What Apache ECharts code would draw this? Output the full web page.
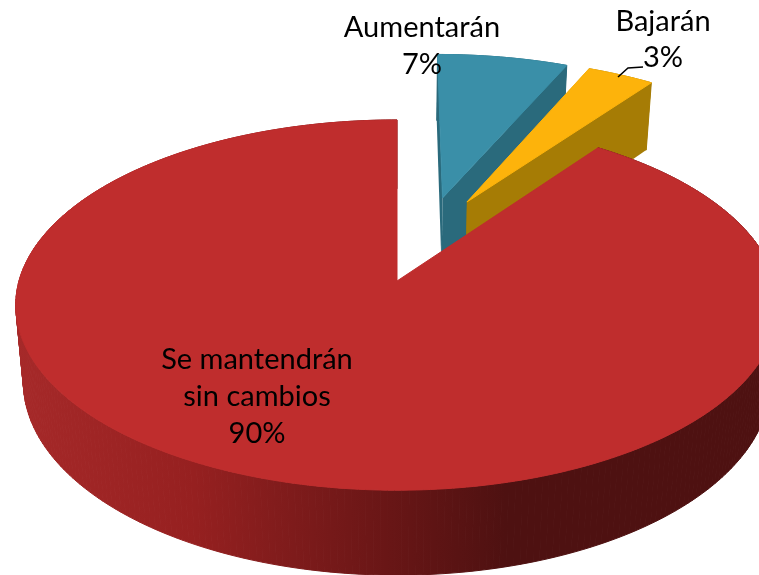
<!DOCTYPE html>
<html><head><meta charset="utf-8">
<style>html,body{margin:0;padding:0;background:#fff}#c{width:759px;height:575px}</style>
<script src="https://cdn.jsdelivr.net/npm/echarts@6/dist/echarts.min.js"></script>
</head><body><div id="c"></div>
<script>
const categories = ['Aumentarán', 'Bajarán', 'Se mantendrán\nsin cambios'];
const values = [6.6, 3.4, 90];
const unit = '%';

// Appearance (not data)
const view = {cx: 397, cy: 281, R: 378, b: 182, k: 0.13, depth: 76, shrink: 0.98};
const looks = [
  {top: '#3A8FA8', cut: '#2A6A7C', arc: '#2A6A7C', off: [0.128, -0.485], label: [422, 28, 27], labelGap: 37},
  {top: '#FDB30B', cut: '#A67C05', arc: '#A67C05', off: [0.196, -0.46], label: [663, 22, 36], labelGap: 36, leader: true},
  {top: '#BF2D2D', cut: '#8a1f1f', arc: null, off: [0, 0], label: [257, 360, 37], labelGap: 37}
];
const FONT = '29px Lato, "Open Sans", sans-serif';

const total = values.reduce((a, b) => a + b, 0);

function project(X, Z, h) {
  const s = 1 / (1 - view.k * Z);
  const f = 1 - (1 - view.shrink) * h;
  return [
    view.cx + view.R * X * s * f,
    view.cy + view.b * Z * s + view.depth * h * Math.pow(s, 0.8)
  ];
}
function rim(o, a0, a1, h) {
  const n = Math.max(4, Math.round((a1 - a0) * 60));
  const pts = [];
  for (let i = 0; i <= n; i++) {
    const a = a0 + (a1 - a0) * i / n;
    pts.push(project(o[0] + Math.sin(a), o[1] - Math.cos(a), h));
  }
  return pts;
}
function poly(points, fill, edge) {
  return {type: 'polygon', silent: true, shape: {points},
    style: edge ? {fill, stroke: fill, lineWidth: 1} : {fill, stroke: null}};
}
const redWall = new echarts.graphic.LinearGradient(15, 0, 759, 0, [
  {offset: 0, color: '#A62929'},
  {offset: 0.24, color: '#962020'},
  {offset: 0.35, color: '#821C1C'},
  {offset: 0.5, color: '#691616'},
  {offset: 0.66, color: '#4E1111'},
  {offset: 1, color: '#4E1111'}
], true);

function renderSlice(params, api) {
  const i = params.dataIndex;
  const look = looks[i];
  const o = look.off;
  let before = 0;
  for (let j = 0; j < i; j++) before += values[j];
  const a0 = before / total * 2 * Math.PI;
  const a1 = (before + api.value(0)) / total * 2 * Math.PI;
  const children = [];

  const topRim = rim(o, a0, a1, 0);
  const lowRim = rim(o, a0, a1, 1);
  const apexTop = project(o[0], o[1], 0);
  const apexLow = project(o[0], o[1], 1);

  // outer wall, one quad per rim step so the silhouette stays filled
  for (let n = 0; n < topRim.length - 1; n++) {
    children.push(poly([topRim[n], topRim[n + 1], lowRim[n + 1], lowRim[n]], look.arc || redWall, true));
  }
  if (i !== 2) {
    const e0 = topRim[0], e0l = lowRim[0];
    const e1 = topRim[topRim.length - 1], e1l = lowRim[lowRim.length - 1];
    children.push(poly([apexTop, e0, e0l, apexLow], look.cut));
    children.push(poly([apexTop, e1, e1l, apexLow], look.cut));
  }
  // top face, edged in its own colour so it covers the wall seam behind it
  children.push(poly([apexTop].concat(topRim), look.top, true));

  return {type: 'group', children};
}
function renderLabel(params, api) {
  const i = params.dataIndex;
  const look = looks[i];
  const lines = categories[i].split('\n').concat([Math.round(api.value(0)) + unit]);
  const children = [];
  lines.forEach((t, n) => {
    children.push({
      type: 'text', silent: true,
      style: {text: t, x: look.label[0], y: look.label[1] + n * look.labelGap,
        fill: '#000', font: FONT, align: 'center', verticalAlign: 'middle'}
    });
  });
  if (look.leader) {
    children.push({type: 'polyline', silent: true,
      shape: {points: [[618, 77], [628, 68], [643, 67]]},
      style: {stroke: '#000', lineWidth: 1.5, fill: null}});
  }
  return {type: 'group', children};
}

const seriesData = values.map((v, i) => ({name: categories[i], value: [v]}));
const chart = echarts.init(document.getElementById('c'), null, {renderer: 'canvas'});
chart.setOption({
  animation: false,
  backgroundColor: '#fff',
  tooltip: {show: false},
  series: [
    {type: 'custom', coordinateSystem: 'none', clip: false, renderItem: renderSlice, data: seriesData, z: 1},
    {type: 'custom', coordinateSystem: 'none', clip: false, renderItem: renderLabel, data: seriesData, z: 2}
  ]
});
</script></body></html>
